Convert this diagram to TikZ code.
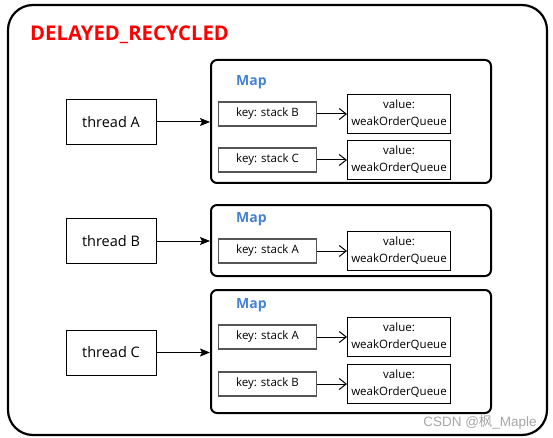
\documentclass[tikz,border=0pt]{standalone}
\usepackage{fontspec}
\setmainfont{Open Sans}
\setsansfont{Open Sans}
\newfontfamily\cjk{Noto Sans CJK SC}
\newfontfamily\markfont{Liberation Sans}
\usetikzlibrary{arrows.meta}
\definecolor{titlered}{RGB}{255,0,0}
\definecolor{mapblue}{RGB}{70,130,210}
\definecolor{keygray}{RGB}{85,85,85}
\begin{document}
\begin{tikzpicture}[
    x=1pt, y=-1pt, every node/.style={font=\sffamily},
    % Outer frame style
    outer box/.style={
        rectangle, rounded corners=25pt, draw=black, line width=2.2pt,
        minimum width=539pt, minimum height=430pt, inner sep=0pt
    },
    % Title style
    title/.style={
        anchor=west, text=titlered, inner sep=0pt,
        font=\sffamily\bfseries\fontsize{20.3}{22}\selectfont
    },
    % Thread node style
    thread/.style={
        rectangle, draw=black, line width=1pt,
        minimum width=90pt, minimum height=45pt, inner sep=0pt,
        font=\sffamily\fontsize{14.5}{16}\selectfont
    },
    % Map container style
    map box/.style={
        rectangle, rounded corners=6pt, draw=black, line width=2pt,
        minimum width=280pt, inner sep=0pt
    },
    % Map label style
    map label/.style={
        anchor=west, text=mapblue, inner sep=0pt,
        font=\sffamily\bfseries\fontsize{14}{15}\selectfont
    },
    % Key entry style
    key entry/.style={
        rectangle, draw=keygray, line width=1.3pt,
        minimum width=98pt, minimum height=24pt, inner sep=0pt,
        font=\sffamily\fontsize{11.5}{13}\selectfont
    },
    % Value entry style
    value entry/.style={
        rectangle, draw=black, line width=1pt, align=center,
        minimum width=103pt, minimum height=39pt, inner sep=0pt,
        font=\sffamily\fontsize{11.5}{17}\selectfont
    },
    % Thread to map arrow
    owns/.style={
        -{Stealth[length=10pt, width=8pt, inset=2pt]}, line width=1pt
    },
    % Key to value arrow
    maps to/.style={
        -{Straight Barb[length=7pt, width=11pt]}, line width=1pt
    },
    % Watermark style
    watermark/.style={
        text=gray!70, inner sep=0pt,
        font=\markfont\fontsize{13.5}{15}\selectfont
    }
]
\useasboundingbox (0,0) rectangle (553,438);

% --- Frame and title ---
\node[outer box] (recycled) at (277.5,220) {};
\node[title] (title) at (30,35) {DELAYED\_RECYCLED};

% --- Threads ---
\node[thread] (threadA) at (111,122) {thread A};
\node[thread] (threadB) at (111,241) {thread B};
\node[thread] (threadC) at (111,352.5) {thread C};

% --- Maps ---
\node[map box, minimum height=123pt] (mapA) at (351,121.5) {};
\node[map box, minimum height=71pt] (mapB) at (351,240.5) {};
\node[map box, minimum height=123pt] (mapC) at (351,351.5) {};
\node[map label] (labelA) at (236,82) {Map};
\node[map label] (labelB) at (236,219) {Map};
\node[map label] (labelC) at (236,305) {Map};

% Map of thread A
\node[key entry] (keyAB) at (267.5,114) {key: stack B};
\node[key entry] (keyAC) at (267.5,160) {key: stack C};
\node[value entry] (valAB) at (399,114) {value:\\weakOrderQueue};
\node[value entry] (valAC) at (399,160) {value:\\weakOrderQueue};

% Map of thread B
\node[key entry] (keyBA) at (267.5,251) {key: stack A};
\node[value entry] (valBA) at (399,250.5) {value:\\weakOrderQueue};

% Map of thread C
\node[key entry] (keyCA) at (267.5,337) {key: stack A};
\node[key entry] (keyCB) at (267.5,384) {key: stack B};
\node[value entry] (valCA) at (399,337) {value:\\weakOrderQueue};
\node[value entry] (valCB) at (399,383.5) {value:\\weakOrderQueue};

% --- Edges ---
\draw[owns] (threadA) -- (threadA -| mapA.west);
\draw[owns] (threadB) -- (threadB -| mapB.west);
\draw[owns] (threadC) -- (threadC -| mapC.west);

\draw[maps to] (keyAB) -- (keyAB -| valAB.west);
\draw[maps to] (keyAC) -- (keyAC -| valAC.west);
\draw[maps to] (keyBA) -- (keyBA -| valBA.west);
\draw[maps to] (keyCA) -- (keyCA -| valCA.west);
\draw[maps to] (keyCB) -- (keyCB -| valCB.west);

\node[watermark] (csdn) at (480,422) {CSDN @{\cjk 枫}\_Maple};

\end{tikzpicture}
\end{document}
